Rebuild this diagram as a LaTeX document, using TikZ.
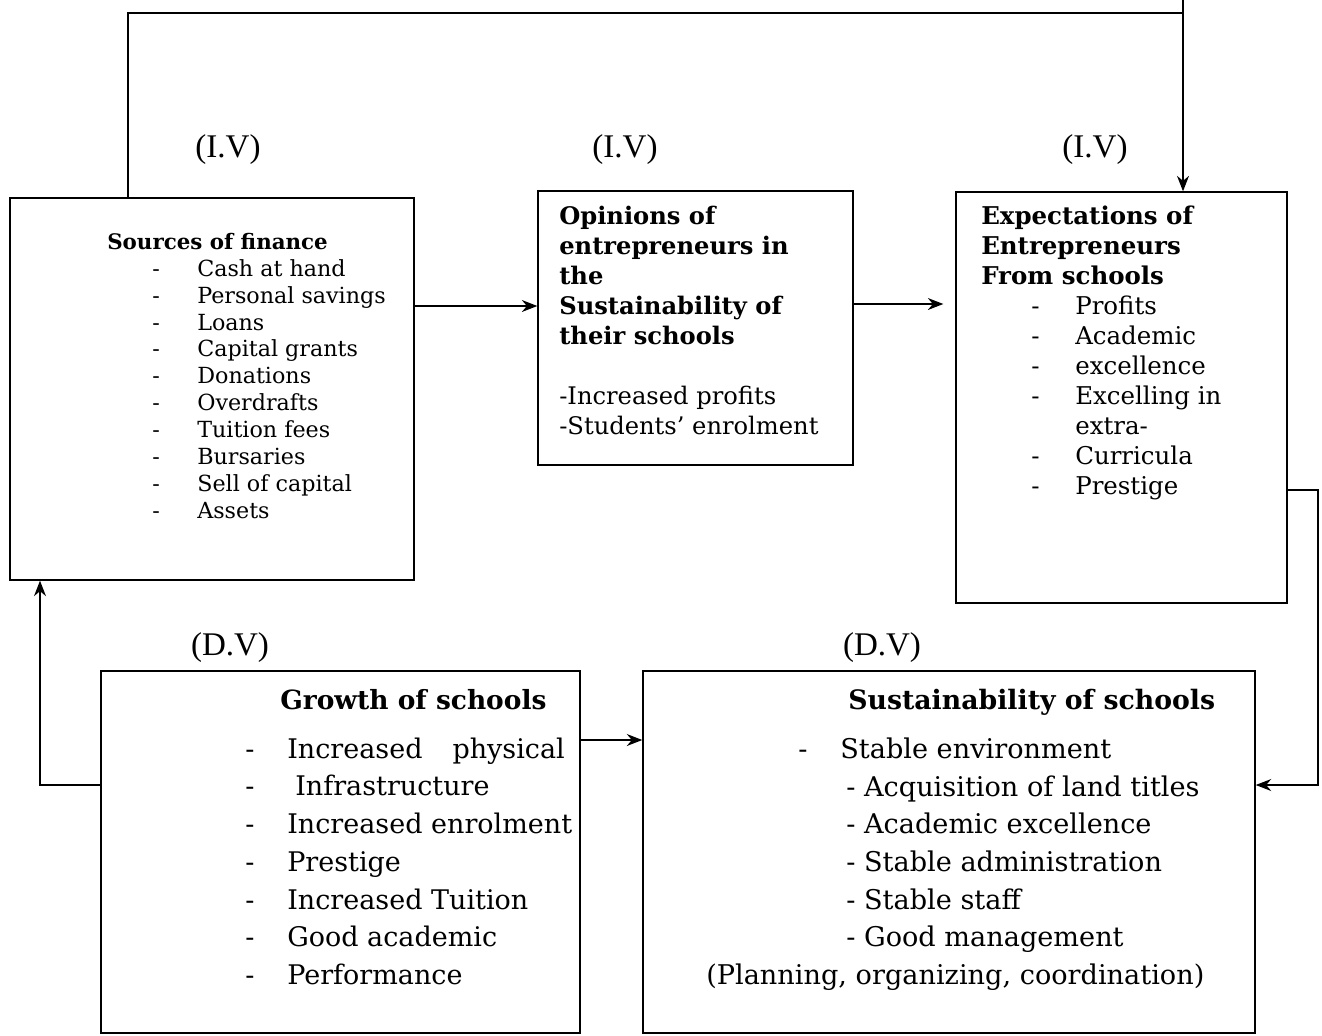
\documentclass[tikz,border=0pt]{standalone}
\usepackage{fontspec}
\setmainfont{DejaVu Serif}
\newfontfamily\labelfont{Liberation Serif}
\usetikzlibrary{arrows.meta}

\newcommand{\bul}[3]{\hspace*{#1}\makebox[#2][l]{-}#3}

\begin{document}
\begin{tikzpicture}[x=0.025cm, y=-0.025cm,
    >={Stealth[length=11pt,width=8.5pt]},
    box/.style={draw, line width=0.9pt, inner sep=0},
    txt/.style={inner sep=0, align=left, anchor=north west},
    var/.style={inner sep=0, font=\labelfont\fontsize{23.5}{26}\selectfont}]
  \useasboundingbox[fill=white] (0,0) rectangle (1322,1035);

  % boxes
  \node[box, minimum width=10.1cm, minimum height=9.55cm] (src) at (212,389) {};
  \node[box, minimum width=7.875cm, minimum height=6.85cm] (opin) at (695.5,328) {};
  \node[box, minimum width=8.275cm, minimum height=10.275cm] (expt) at (1121.5,397.5) {};
  \node[box, minimum width=11.975cm, minimum height=9.05cm] (grow) at (340.5,852) {};
  \node[box, minimum width=15.3cm, minimum height=9.05cm] (sust) at (949,852) {};

  % variable labels
  \node[var] (iv1) at (228,150) {(I.V)};
  \node[var] (iv2) at (625,150) {(I.V)};
  \node[var] (iv3) at (1095,150) {(I.V)};
  \node[var] (dv1) at (230,648) {(D.V)};
  \node[var] (dv2) at (882,648) {(D.V)};

  % box texts
  \node[txt, font=\fontsize{15.8}{19.1}\selectfont] (srctext) at (107,233) {%
    {\fontsize{15.2}{19.1}\selectfont\textbf{Sources of finance}}\\
    \bul{1.125cm}{1.125cm}{Cash at hand}\\
    \bul{1.125cm}{1.125cm}{Personal savings}\\
    \bul{1.125cm}{1.125cm}{Loans}\\
    \bul{1.125cm}{1.125cm}{Capital grants}\\
    \bul{1.125cm}{1.125cm}{Donations}\\
    \bul{1.125cm}{1.125cm}{Overdrafts}\\
    \bul{1.125cm}{1.125cm}{Tuition fees}\\
    \bul{1.125cm}{1.125cm}{Bursaries}\\
    \bul{1.125cm}{1.125cm}{Sell of capital}\\
    \bul{1.125cm}{1.125cm}{Assets}};
  \node[txt, font=\fontsize{17.2}{21.3}\selectfont] (opintext) at (559,206) {%
    \textbf{Opinions of}\\
    \textbf{entrepreneurs in}\\
    \textbf{the}\\
    \textbf{Sustainability of}\\
    \textbf{their schools}\\
    \\
    -Increased profits\\
    -Students' enrolment};
  \node[txt, font=\fontsize{17.4}{21.3}\selectfont] (expttext) at (981,206) {%
    \textbf{Expectations of}\\
    \textbf{Entrepreneurs}\\
    \textbf{From schools}\\
    \bul{1.25cm}{1.1cm}{Profits}\\
    \bul{1.25cm}{1.1cm}{Academic}\\
    \bul{1.25cm}{1.1cm}{excellence}\\
    \bul{1.25cm}{1.1cm}{Excelling in}\\
    \hspace*{2.35cm}extra-\\
    \bul{1.25cm}{1.1cm}{Curricula}\\
    \bul{1.25cm}{1.1cm}{Prestige}};
  \node[txt, font=\fontsize{19.2}{26.8}\selectfont] (growtext) at (245,689) {%
    \hspace*{0.875cm}{\fontsize{18.8}{26.8}\selectfont\textbf{Growth of schools}}\\[0.28cm]
    \bul{0cm}{1.05cm}{Increased\hspace{0.75cm}physical}\\
    \bul{0cm}{1.05cm}{\hspace{0.2cm}Infrastructure}\\
    \bul{0cm}{1.05cm}{Increased enrolment}\\
    \bul{0cm}{1.05cm}{Prestige}\\
    \bul{0cm}{1.05cm}{Increased Tuition}\\
    \bul{0cm}{1.05cm}{Good academic}\\
    \bul{0cm}{1.05cm}{Performance}};
  \node[txt, font=\fontsize{19.3}{26.8}\selectfont] (susttext) at (706,689) {%
    \hspace*{3.55cm}{\fontsize{19}{26.8}\selectfont\textbf{Sustainability of schools}}\\[0.28cm]
    \bul{2.3cm}{1.05cm}{Stable environment}\\
    \hspace*{3.5cm}- Acquisition of land titles\\
    \hspace*{3.5cm}- Academic excellence\\
    \hspace*{3.5cm}- Stable administration\\
    \hspace*{3.5cm}- Stable staff\\
    \hspace*{3.5cm}- Good management\\
    (Planning, organizing, coordination)};

  % helper points for the connectors
  \coordinate (ab) at (0,306);
  \coordinate (bc) at (0,304);
  \coordinate (tl) at (128,13);
  \coordinate (tr) at (1183,13);
  \coordinate (trtop) at (1183,0);
  \coordinate (cr) at (1318,490);
  \coordinate (er) at (1318,785);
  \coordinate (dl) at (40,785);
  \coordinate (de) at (0,740);

  % connectors
  \draw[line width=0.9pt, ->] (src.east |- ab) -- (opin.west |- ab);
  \draw[line width=0.9pt, ->, shorten >=0.3cm] (opin.east |- bc) -- (expt.west |- bc);
  \draw[line width=0.9pt] (src.north -| tl) -- (tl) -- (tr);
  \draw[line width=0.9pt, ->] (trtop) -- (expt.north -| trtop);
  \draw[line width=0.9pt, ->] (expt.east |- cr) -- (cr) -- (er) -- (sust.east |- er);
  \draw[line width=0.9pt, ->] (grow.west |- dl) -- (dl) -- (src.south -| dl);
  \draw[line width=0.9pt, ->] (grow.east |- de) -- (sust.west |- de);
\end{tikzpicture}
\end{document}
